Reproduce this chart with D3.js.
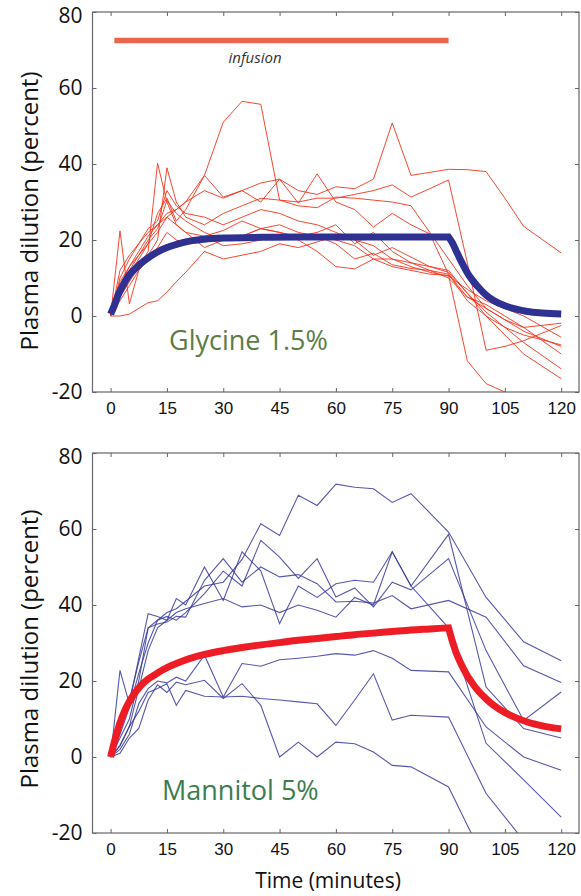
<!DOCTYPE html>
<html>
<head>
<meta charset="utf-8">
<script src="https://cdn.jsdelivr.net/npm/d3@7"></script>
<style>
  html, body { margin: 0; padding: 0; background: #fff; }
  svg { display: block; }
</style>
</head>
<body>
<svg id="chart" width="581" height="896"></svg>
<script>
// ---------------- DATA ----------------
const xTicks = [0, 15, 30, 45, 60, 75, 90, 105, 120];
const yTicks = [-20, 0, 20, 40, 60, 80];

// Glycine 1.5% individual subjects (sampling times in minutes)
const glycineTimes = [0,2.5,5,7.5,10,12.5,15,17.5,20,25,30,35,40,45,50,55,60,65,70,75,80,85,90,95,100,105,110,120];
const glycine1  = [0, 9, 13, 16, 19, 22, 26, 28, 30, 37, 51, 56.5, 55.7, 30.5, 29, 28.5, 31.3, 31, 30.5, 30, 29, 22, 15, 8, 2, -1, -4, -8];
const glycine2  = [0, 8, 13, 17, 21, 24, 27, 28, 30, 33, 31, 33, 35, 36, 33, 32, 34, 33.5, 36, 50.8, 37, 37.8, 38.6, 38.5, 38, 31, 23.6, 16.6];
const glycine3  = [0, 6, 11, 15, 19, 27, 31, 25, 28, 37, 31.3, 33, 30, 36, 29.7, 37.4, 30, 28, 23.4, 27, 24, 21.6, 11, 5, 3, 0, -3, -10];
const glycine4  = [0, 22.4, 3.2, 12, 16, 20, 39, 30, 26, 24, 27, 29, 31, 30.5, 30, 31, 31, 32, 33, 34.5, 31.3, 33.5, 35.8, 14, -9, -8, -6.5, -2.5];
const glycine5  = [0, 5, 9, 13, 17, 40.2, 30, 24, 22, 21, 18.5, 19, 20, 21.5, 20, 17, 13, 12.4, 15, 13, 12, 11, 10.7, -11.8, -17.8, -20, -22, -25];
const glycine6  = [0, 10, 15, 19, 23, 25, 33, 29, 27, 26, 24, 26, 28, 27, 25, 24, 22, 20, 16, 18, 15.5, 13, 11.5, 6, 1, -3, -7, -13.9];
const glycine7  = [0, 7, 12, 16, 20, 23, 30.4, 27, 25, 22, 20, 21, 23, 22, 20, 21, 19, 15, 16.5, 13.5, 12.5, 12, 11, 4, 0, -5, -10, -16.5];
const glycine8  = [0, 12, 16, 19, 22, 24, 26, 24, 22, 18, 20, 21, 23, 24, 22, 21, 20, 18.5, 15, 15, 13, 11.5, 10.5, 7, 4, 2, 0, -5.6];
const glycine9  = [0, 4, 8, 12, 15, 18, 22, 20, 19, 21, 22.5, 25, 23, 22, 21, 22, 24, 19, 22, 17, 14, 12, 10, 5, 2, -1, -3, -1.9];
const glycine10 = [0, 0, 0.5, 2, 3.5, 4, 6.3, 9, 11.5, 17, 15, 16, 17, 19, 18, 19.5, 21, 20, 18.5, 15, 14, 13, 12, 6, 0, -3, -5, -7.6];

// Glycine model (mean) curve: rise during infusion, then decay
const glycineRiseTimes  = [0,1,2,3,4,5,6,8,10,12,15,18,21,25,30,40,50,60,70,80,90];
const glycineRise       = [0.5,2.8,5.5,7.5,9.3,10.8,11.9,13.8,15.3,16.6,18,19,19.7,20.2,20.5,20.7,20.8,20.8,20.8,20.8,20.8];
const glycineDecayTimes = [90,91,92,93,94,95,96,98,100,102,105,108,111,115,120];
const glycineDecay      = [20.8,19.3,17.2,15.1,13.2,11.4,9.9,7.5,5.5,4.1,2.7,1.8,1.2,0.8,0.5];

// Mannitol 5% individual subjects
const mannitolTimes = [0,2.5,5,7.5,10,12.5,15,17.5,20,25,30,35,40,45,50,55,60,65,70,75,80,90,100,110,120];
const mannitol1 = [0, 7, 15, 25, 34, 36, 38, 39, 41, 45, 46, 52, 61.4, 58.3, 68.9, 66.2, 71.8, 71, 70.6, 67, 69.3, 59.2, 42, 30.3, 25.3];
const mannitol2 = [0, 22.8, 14, 26, 37.7, 37, 36, 41.7, 40, 50, 41.2, 54, 49, 35.1, 45, 42, 45.6, 46.5, 46, 54, 45, 58.6, 18.4, 7.5, 5];
const mannitol3 = [0, 6, 13, 22, 30, 36, 37, 36, 38, 43, 48.9, 45, 57, 52.6, 47, 52.2, 42.1, 44.5, 39.5, 46, 44, 52.2, 28, 9.6, 17.1];
const mannitol4 = [0, 5, 10, 20, 34, 35, 35.5, 37, 36.8, 46.5, 52.2, 46, 50, 47.4, 48, 45.6, 40.8, 41, 40.5, 42.5, 39, 41.2, 36.8, 24, 19.6];
const mannitol5 = [0, 3, 8, 18, 28, 34, 36, 38, 39, 40.4, 41.7, 39.5, 40, 38, 40, 38.6, 36.8, 42, 40, 54, 45, 34, 3.6, -6, -15.8];
const mannitol6 = [0, 3, 8, 12, 17, 18, 19.3, 13.6, 17.5, 16, 15.8, 16, 15.4, 15, 14.5, 14, 8.3, 15, 21.9, 9.7, 11, 10.5, -9.6, -22, -30];
const mannitol7 = [0, 1, 5, 7.5, 15, 19, 17, 19.7, 19, 20.2, 15.4, 19.3, 13.6, 0, 3.9, 0, 3.9, 3.5, 1.3, -2.2, -2.6, -7.9, -28, -40, -50];
const mannitol8 = [0, 2, 6, 14, 18, 20, 19.5, 21, 20, 26.8, 15.8, 24.6, 23.9, 25.6, 26, 26.5, 27.2, 26.8, 28, 26, 22.8, 22.4, 7.9, 0, -3.5];

// Mannitol model (mean) curve
const mannitolRiseTimes  = [0,1,2,3,4,5,6,8,10,12,15,18,21,25,30,35,40,45,50,55,60,65,70,75,80,85,90];
const mannitolRise       = [0,4,7.5,10.3,12.7,14.6,16.2,18.7,20.5,21.8,23.5,24.8,25.9,27,28,28.8,29.5,30.1,30.7,31.2,31.7,32.2,32.6,33,33.4,33.7,34];
const mannitolDecayTimes = [90,91,92,93,94,95,96,98,100,102,105,108,111,115,120];
const mannitolDecay      = [34,30.5,27.5,25.2,23.2,21.4,19.9,17.3,15.3,13.6,11.7,10.3,9.2,8.2,7.4];

// Infusion period
const infusionPeriod = [1, 90];
const infusionLevel = 72.5;

// ---------------- DRAWING ----------------
const svg = d3.select("#chart");
svg.append("rect").attr("width", 581).attr("height", 896).attr("fill", "#fff");

const x = d3.scaleLinear().domain([0, 120]).range([110.6, 561.2]);
const boxLeft = 92.5, boxRight = 579;

function panel(cfg) {
  const y = d3.scaleLinear().domain([-20, 80]).range([cfg.bottom, cfg.top]);
  const g = svg.append("g");
  const clipId = "clip" + cfg.id;
  svg.append("clipPath").attr("id", clipId)
    .append("rect").attr("x", boxLeft).attr("y", cfg.top)
    .attr("width", boxRight - boxLeft).attr("height", cfg.bottom - cfg.top);

  const plot = g.append("g").attr("clip-path", `url(#${clipId})`);

  const line = d3.line().x(d => x(d[0])).y(d => y(d[1]));
  const smooth = d3.line().x(d => x(d[0])).y(d => y(d[1])).curve(d3.curveMonotoneX);

  cfg.subjects.forEach(vals => {
    plot.append("path")
      .attr("d", line(cfg.times.map((t, i) => [t, vals[i]])))
      .attr("fill", "none")
      .attr("stroke", cfg.thinColor)
      .attr("stroke-width", cfg.thinWidth)
      .attr("stroke-opacity", cfg.thinOpacity);
  });

  // mean curve: smooth rise + smooth decay joined with a sharp corner at 90 min
  const d1 = smooth(cfg.riseTimes.map((t, i) => [t, cfg.rise[i]]));
  const d2 = smooth(cfg.decayTimes.map((t, i) => [t, cfg.decay[i]])).replace(/^M[^A-Za-z]*/, "");
  plot.append("path")
    .attr("d", d1 + d2)
    .attr("fill", "none")
    .attr("stroke", cfg.meanColor)
    .attr("stroke-width", 7)
    .attr("stroke-linejoin", "miter")
    .attr("stroke-linecap", "butt");

  if (cfg.infusion) {
    g.append("line")
      .attr("x1", x(infusionPeriod[0])).attr("x2", x(infusionPeriod[1]))
      .attr("y1", y(infusionLevel)).attr("y2", y(infusionLevel))
      .attr("stroke", "#e8664c").attr("stroke-width", 5.5);
    g.append("text")
      .attr("x", 255).attr("y", y(infusionLevel) + 22)
      .attr("text-anchor", "middle")
      .attr("font-family", "'Open Sans', sans-serif")
      .attr("font-style", "italic")
      .attr("font-size", 15)
      .attr("fill", "#333")
      .text("infusion");
  }

  // axes (inward ticks)
  const axisColor = "#666";
  const left = g.append("g").attr("transform", `translate(${boxLeft},0)`)
    .call(d3.axisLeft(y).tickValues(yTicks).tickSize(-4).tickPadding(10).tickFormat(d => String(d)));
  left.selectAll("text")
    .attr("font-family", "'Open Sans', sans-serif")
    .attr("font-size", 21).attr("fill", "#111");
  left.selectAll(".tick").filter(d => d === 80).select("text").attr("dy", "0.5em");
  const right = g.append("g").attr("transform", `translate(${boxRight},0)`)
    .call(d3.axisRight(y).tickValues(yTicks).tickSize(-4).tickFormat(""));
  const top = g.append("g").attr("transform", `translate(0,${cfg.top})`)
    .call(d3.axisTop(x).tickValues(xTicks).tickSize(-4).tickFormat(""));
  const bottom = g.append("g").attr("transform", `translate(0,${cfg.bottom})`)
    .call(d3.axisBottom(x).tickValues(xTicks).tickSize(-4).tickPadding(10));
  bottom.selectAll("text")
    .attr("font-family", "'Liberation Sans', Arial, sans-serif")
    .attr("font-size", 17).attr("fill", "#111");
  [left, right, top, bottom].forEach(a => {
    a.select(".domain").remove();
    a.selectAll(".tick line").attr("stroke", axisColor);
  });

  g.append("rect")
    .attr("x", boxLeft).attr("y", cfg.top)
    .attr("width", boxRight - boxLeft).attr("height", cfg.bottom - cfg.top)
    .attr("fill", "none").attr("stroke", axisColor).attr("stroke-width", 1.2);

  // y label
  g.append("text")
    .attr("transform", `translate(38,${cfg.labelY}) rotate(-90)`)
    .attr("text-anchor", "middle")
    .attr("font-family", "'Open Sans', sans-serif")
    .attr("font-size", 24).attr("fill", "#111")
    .text("Plasma dilution (percent)");

  // group label
  g.append("text")
    .attr("x", cfg.nameX).attr("y", cfg.nameY)
    .attr("font-family", "'Open Sans', sans-serif")
    .attr("font-size", 27).attr("fill", cfg.nameColor)
    .text(cfg.name);
}

panel({
  id: "g", top: 12, bottom: 392, labelY: 211,
  times: glycineTimes,
  subjects: [glycine1, glycine2, glycine3, glycine4, glycine5, glycine6, glycine7, glycine8, glycine9, glycine10],
  thinColor: "#f2341c", thinWidth: 1, thinOpacity: 0.9,
  riseTimes: glycineRiseTimes, rise: glycineRise,
  decayTimes: glycineDecayTimes, decay: glycineDecay,
  meanColor: "#2e3192",
  infusion: true,
  name: "Glycine 1.5%", nameX: 169, nameY: 350, nameColor: "#5e7c46"
});

panel({
  id: "m", top: 453, bottom: 833, labelY: 649,
  times: mannitolTimes,
  subjects: [mannitol1, mannitol2, mannitol3, mannitol4, mannitol5, mannitol6, mannitol7, mannitol8],
  thinColor: "#3a3a9e", thinWidth: 1.1, thinOpacity: 0.85,
  riseTimes: mannitolRiseTimes, rise: mannitolRise,
  decayTimes: mannitolDecayTimes, decay: mannitolDecay,
  meanColor: "#ee1c24",
  infusion: false,
  name: "Mannitol 5%", nameX: 162, nameY: 800, nameColor: "#3c7c50"
});

svg.append("text")
  .attr("x", 328).attr("y", 888)
  .attr("text-anchor", "middle")
  .attr("font-family", "'Open Sans', sans-serif")
  .attr("font-size", 21).attr("fill", "#111")
  .text("Time (minutes)");
</script>
</body>
</html>
